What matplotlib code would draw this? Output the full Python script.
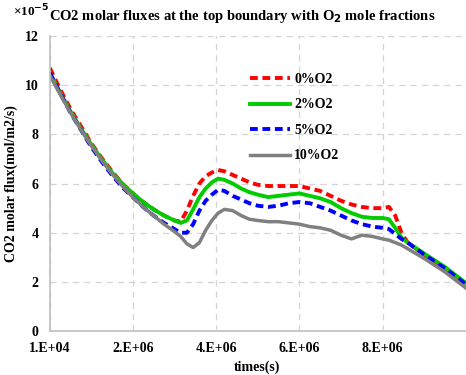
import matplotlib
matplotlib.use('Agg')
import matplotlib.pyplot as plt

plt.rcParams['font.family'] = ['Liberation Serif', 'DejaVu Serif']
plt.rcParams['font.weight'] = 'bold'

# time in units of 1e6 s, fluxes in units of 1e-5 mol/m2/s
times = [0.01, 0.25, 0.5, 0.75, 1.0, 1.25, 1.5, 1.75, 2.0, 2.25, 2.5, 2.75,
         3.0, 3.15, 3.3, 3.45, 3.6, 3.75, 3.9, 4.05, 4.2, 4.4, 4.6, 4.8,
         5.0, 5.25, 5.5, 5.75, 6.0, 6.25, 6.5, 6.75, 7.0, 7.25, 7.5, 7.75,
         8.0, 8.15, 8.3, 8.45, 8.6, 9.0, 9.5, 10.0]

flux_0 = [10.7, 9.85, 9.05, 8.35, 7.65, 7.05, 6.5, 6.0, 5.6, 5.25, 4.95, 4.7,
          4.5, 4.45, 4.9, 5.5, 6.0, 6.3, 6.45, 6.55, 6.5, 6.35, 6.2, 6.05,
          5.95, 5.9, 5.9, 5.9, 5.9, 5.8, 5.7, 5.5, 5.3, 5.15, 5.05, 5.0,
          5.0, 5.05, 4.7, 4.0, 3.6, 3.1, 2.55, 1.95]
flux_2 = [10.5, 9.7, 8.95, 8.25, 7.6, 7.0, 6.45, 6.0, 5.6, 5.25, 4.95, 4.7,
          4.5, 4.4, 4.5, 4.95, 5.45, 5.8, 6.05, 6.2, 6.15, 6.0, 5.8, 5.65,
          5.55, 5.45, 5.5, 5.55, 5.6, 5.5, 5.4, 5.25, 5.0, 4.8, 4.65, 4.6,
          4.6, 4.55, 4.2, 3.8, 3.6, 3.15, 2.6, 1.95]
flux_5 = [10.5, 9.7, 8.9, 8.2, 7.5, 6.9, 6.35, 5.85, 5.45, 5.05, 4.7, 4.4,
          4.15, 4.0, 4.0, 4.35, 4.9, 5.3, 5.55, 5.75, 5.7, 5.5, 5.35, 5.2,
          5.1, 5.05, 5.1, 5.2, 5.25, 5.2, 5.05, 4.9, 4.7, 4.5, 4.35, 4.25,
          4.2, 4.15, 3.95, 3.75, 3.6, 3.1, 2.55, 1.9]
flux_10 = [10.4, 9.65, 8.9, 8.2, 7.55, 6.95, 6.4, 5.9, 5.45, 5.05, 4.7, 4.35,
           4.05, 3.85, 3.55, 3.4, 3.6, 4.1, 4.5, 4.8, 4.95, 4.9, 4.7, 4.55,
           4.5, 4.45, 4.45, 4.4, 4.35, 4.25, 4.2, 4.1, 3.9, 3.75, 3.9, 3.85,
           3.75, 3.7, 3.6, 3.5, 3.35, 2.95, 2.4, 1.75]

labels = ['0%O2', '2%O2', '5%O2', '10%O2']
xtick_vals = [0.01, 2, 4, 6, 8]
xtick_labels = ['1.E+04', '2.E+06', '4.E+06', '6.E+06', '8.E+06']

fig = plt.figure(figsize=(4.66, 3.75), dpi=100)
ax = fig.add_axes([0.107, 0.117, 0.893, 0.787])

ax.plot(times, flux_0, color='#FF0000', lw=2.8, ls=(0, (2.0, 1.2)), label=labels[0])
ax.plot(times, flux_2, color='#00CC00', lw=2.8, label=labels[1])
ax.plot(times, flux_5, color='#0000FF', lw=2.8, ls=(0, (2.0, 1.2)), label=labels[2])
ax.plot(times, flux_10, color='#808080', lw=2.5, label=labels[3])

ax.set_xlim(0.01, 10.0)
ax.set_ylim(0, 12)
ax.set_xticks(xtick_vals)
ax.set_xticklabels(xtick_labels)
ax.set_yticks(range(0, 13, 2))
ax.tick_params(length=0, labelsize=10, pad=8)
for lab in ax.get_xticklabels() + ax.get_yticklabels():
    lab.set_fontweight('bold')

ax.grid(True, color='#D4D4D4', ls=(0, (5, 4)), lw=0.9)
for side in ['top', 'right']:
    ax.spines[side].set_visible(False)
for side in ['left', 'bottom']:
    ax.spines[side].set_color('#BFBFBF')
    ax.spines[side].set_linewidth(1.2)

ax.set_xlabel('times(s)', fontsize=10, fontweight='bold')
ax.set_ylabel('CO2 molar flux(mol/m2/s)', fontsize=10, fontweight='bold')
ax.xaxis.set_label_coords(0.498, -0.122)
ax.yaxis.set_label_coords(-0.092, 0.5)
ax.xaxis.label.set_va('center')
ax.yaxis.label.set_va('center')

fig.text(0.105, 0.955, 'CO2 molar fluxes at the top boundary with O$_\\mathbf{2}$ mole fractions',
         fontsize=10.5, fontweight='bold', va='center', ha='left')
fig.text(0.028, 0.972, '\u00d710$^{\\mathbf{-5}}$', fontsize=9.5, fontweight='bold',
         va='center', ha='left')

leg = ax.legend(loc='upper left', bbox_to_anchor=(0.48, 0.875), frameon=False,
                fontsize=10, handlelength=2.9, labelspacing=0.9, handletextpad=0.3,
                borderpad=0, borderaxespad=0)

fig.savefig('out.png', dpi=100)
